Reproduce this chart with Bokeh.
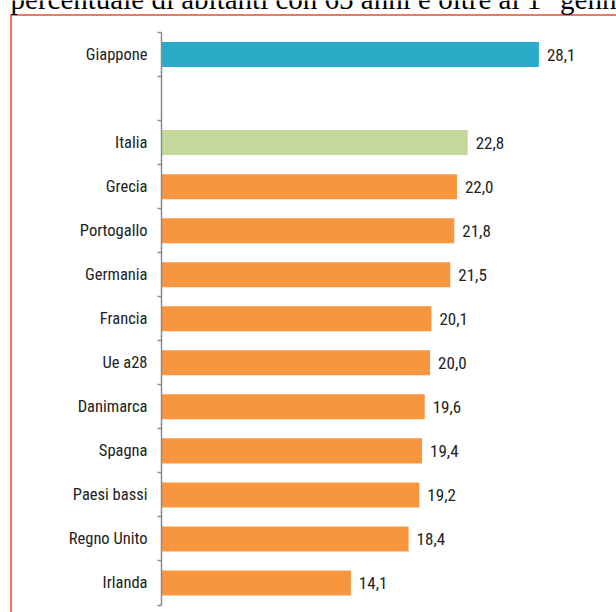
from bokeh.plotting import figure
from bokeh.models import (ColumnDataSource, Range1d, LinearAxis, FixedTicker, Label, BoxAnnotation)
from bokeh.embed import file_html
from bokeh.resources import INLINE

# ---- data ----
countries = ["Giappone", "Italia", "Grecia", "Portogallo", "Germania", "Francia",
             "Ue a28", "Danimarca", "Spagna", "Paesi bassi", "Regno Unito", "Irlanda"]
values = [28.1, 22.8, 22.0, 21.8, 21.5, 20.1, 20.0, 19.6, 19.4, 19.2, 18.4, 14.1]
title_text = "percentuale di abitanti con 65 anni e oltre al 1° gennaio"

# ---- styles ----
ORANGE = "#f7963f"
HIGHLIGHT = {"Giappone": "#2aabc8", "Italia": "#c5d89b"}
LABEL_FONT = "Roboto Condensed, DejaVu Sans Condensed, sans-serif"
TEXT_COLOR = "#222222"
AXIS_COLOR = "#8a8a8a"

# slot order top->bottom with an empty slot after Giappone
slots = [countries[0], " "] + countries[1:]
n_slots = len(slots)
slot_pos = {name: n_slots - i - 0.5 for i, name in enumerate(slots)}

colors = [HIGHLIGHT.get(c, ORANGE) for c in countries]
labels = [f"{v:.1f}".replace(".", ",") for v in values]
ypos = [slot_pos[c] for c in countries]

src = ColumnDataSource(dict(country=countries, value=values, y=ypos, color=colors, label=labels))

p = figure(width=616, height=612, output_backend="svg", toolbar_location=None,
           x_range=Range1d(-11.988, 33.879), y_range=Range1d(-0.170, n_slots + 0.727),
           x_axis_location=None, y_axis_location=None, min_border=0)
p.title.visible = False
p.outline_line_color = None
p.background_fill_color = "white"
p.border_fill_color = "white"
p.grid.visible = False

# category axis drawn at x = 0: labels at slot centres, small ticks at slot boundaries
yaxis = LinearAxis(fixed_location=0, bounds=(0, n_slots),
                   ticker=FixedTicker(ticks=[slot_pos[c] for c in countries],
                                      minor_ticks=list(range(n_slots + 1))),
                   major_label_overrides={slot_pos[c]: c for c in countries})
yaxis.axis_line_color = AXIS_COLOR
yaxis.axis_line_width = 1.5
yaxis.major_tick_line_color = None
yaxis.major_tick_out = 0
yaxis.major_tick_in = 0
yaxis.minor_tick_line_color = AXIS_COLOR
yaxis.minor_tick_line_width = 1.5
yaxis.minor_tick_out = 4
yaxis.minor_tick_in = 0
yaxis.major_label_standoff = 10
yaxis.major_label_text_font = LABEL_FONT
yaxis.major_label_text_font_size = "16.5px"
yaxis.major_label_text_color = TEXT_COLOR
p.add_layout(yaxis, "left")

p.hbar(y="y", right="value", left=0, height=0.568, fill_color="color",
       line_color=None, source=src)

p.text(x="value", y="y", text="label", x_offset=8, text_baseline="middle",
       text_align="left", text_font_size="17px", text_color=TEXT_COLOR,
       text_font={"value": LABEL_FONT}, source=src)

# red frame and the (cropped) heading above it
p.add_layout(BoxAnnotation(left=-11.206, right=40, top=n_slots + 0.397, bottom=-1,
                           fill_alpha=0, line_color="#e94b35", line_alpha=1.0, line_width=1.6))
p.add_layout(Label(x=-11.24, y=n_slots + 0.772, text=title_text,
                   text_font="Liberation Serif", text_font_size="29px",
                   text_color="black", text_baseline="alphabetic"))

open("out.html", "w").write(file_html(p, INLINE))
